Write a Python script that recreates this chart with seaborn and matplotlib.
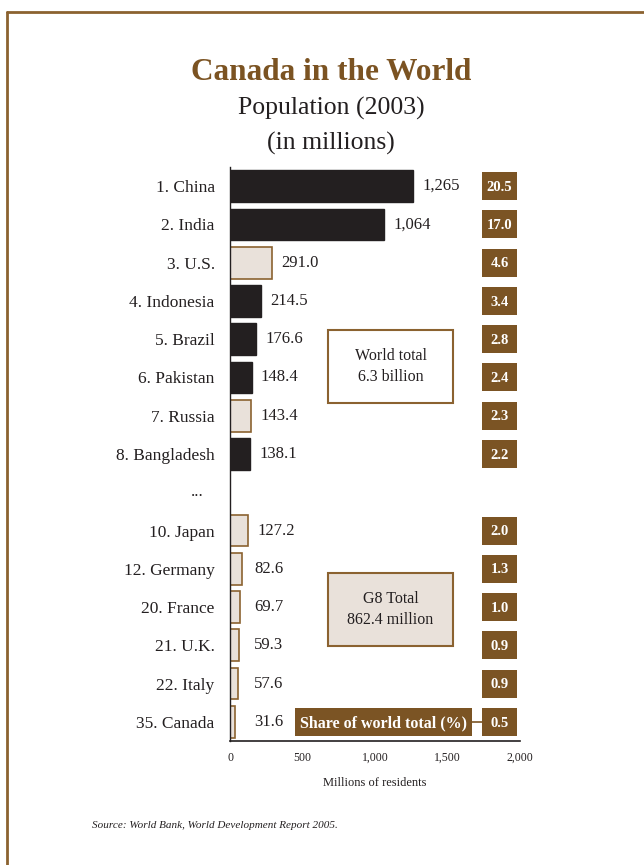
import matplotlib
matplotlib.use("Agg")
import matplotlib.pyplot as plt
from matplotlib.lines import Line2D
from matplotlib.patches import Rectangle
import matplotlib.transforms as mtransforms
import pandas as pd
import seaborn as sns

# ---- data ----
countries = ["1. China", "2. India", "3. U.S.", "4. Indonesia", "5. Brazil",
             "6. Pakistan", "7. Russia", "8. Bangladesh", "10. Japan",
             "12. Germany", "20. France", "21. U.K.", "22. Italy", "35. Canada"]
population = [1265, 1064, 291.0, 214.5, 176.6, 148.4, 143.4, 138.1,
              127.2, 82.6, 69.7, 59.3, 57.6, 31.6]
world_share = [20.5, 17.0, 4.6, 3.4, 2.8, 2.4, 2.3, 2.2,
               2.0, 1.3, 1.0, 0.9, 0.9, 0.5]
is_g8 = [False, False, True, False, False, False, True, False,
         True, True, True, True, True, True]
row_order = countries[:8] + ["..."] + countries[8:]
x_ticks = [0, 500, 1000, 1500, 2000]

# ---- colours ----
DARK = "#231f20"
LIGHT = "#e9e1da"
BROWN = "#8b6230"
BOX = "#7b5424"
TITLE = "#7b5322"

sns.set_style("white")
plt.rcParams["font.family"] = ["Liberation Serif", "DejaVu Serif"]

df = pd.DataFrame({
    "country": countries,
    "population": population,
    "group": ["G8" if g else "Other" for g in is_g8],
})

fig = plt.figure(figsize=(6.44, 8.65), dpi=100)
ax = fig.add_axes([230 / 644, 1 - 741 / 865, 290 / 644, 574 / 865])

sns.barplot(data=df[df["group"] == "Other"], x="population", y="country",
            order=row_order, orient="h", color=DARK, saturation=1,
            edgecolor=DARK, linewidth=1.0, width=0.83, errorbar=None, ax=ax)
sns.barplot(data=df[df["group"] == "G8"], x="population", y="country",
            order=row_order, orient="h", color=LIGHT, saturation=1,
            edgecolor=BROWN, linewidth=1.2, width=0.83, errorbar=None, ax=ax)

ax.set_xlim(0, 2000)
ax.set_ylim(14.5, -0.5)

# value labels next to bars
for name, val in zip(countries, population):
    idx = row_order.index(name)
    txt = f"{val:,.0f}" if val >= 1000 else f"{val:.1f}"
    ax.text(max(val + 65, 165), idx, txt, ha="left", va="center",
            fontsize=12, color=DARK)

# share-of-world boxes on the right
for name, share in zip(countries, world_share):
    idx = row_order.index(name)
    ax.barh(idx, 241, left=1738, height=0.73, color=BOX, linewidth=0)
    ax.text(1858, idx + 0.03, f"{share:.1f}", ha="center", va="center",
            fontsize=10.5, fontweight="bold", color="white")

# caption box for share column
cidx = row_order.index("35. Canada")
ax.barh(cidx, 1221, left=448, height=0.72, color=BOX, linewidth=0)
ax.text(1058, cidx + 0.03, "Share of world total (%)", ha="center", va="center",
        fontsize=11.5, fontweight="bold", color="white")
ax.plot([1669, 1738], [cidx, cidx], color=BOX, lw=1.2)

# total boxes
ax.add_patch(Rectangle((676, 3.76), 862, 1.91, facecolor="white",
                       edgecolor=BROWN, lw=1.5, zorder=3))
ax.text(1107, 4.72, "World total\n6.3 billion", ha="center", va="center",
        fontsize=11.5, color=DARK, linespacing=1.4, zorder=4)
ax.add_patch(Rectangle((676, 10.11), 862, 1.91, facecolor=LIGHT,
                       edgecolor=BROWN, lw=1.5, zorder=3))
ax.text(1107, 11.07, "G8 Total\n862.4 million", ha="center", va="center",
        fontsize=11.5, color=DARK, linespacing=1.4, zorder=4)

# axes styling
ax.set_xticks(x_ticks)
ax.set_xticklabels([f"{t:,}" for t in x_ticks])
ax.set_xlabel("Millions of residents", fontsize=9, color=DARK, labelpad=9)
ax.set_ylabel("")
ax.tick_params(axis="x", length=4, width=1, colors=DARK, labelsize=8.5, pad=4)
ax.tick_params(axis="y", length=0, pad=11, labelsize=12.5, colors=DARK)

# the "..." gap row: its label sits a bit left of the others
gap = row_order.index("...")
ylabels = [t.get_text() for t in ax.get_yticklabels()]
ax.set_yticks(range(len(row_order)))
ax.set_yticklabels(["" if t == "..." else t for t in ylabels])
ax.text(-0.114, gap, "...", ha="center", va="center", fontsize=12.5, color=DARK,
        transform=mtransforms.blended_transform_factory(ax.transAxes, ax.transData))

for side in ["top", "right"]:
    ax.spines[side].set_visible(False)
ax.spines["left"].set_color(DARK)
ax.spines["left"].set_linewidth(1.0)
ax.spines["bottom"].set_color(DARK)
ax.spines["bottom"].set_linewidth(1.2)

# titles
fig.text(331 / 644, 1 - 72 / 865, "Canada in the World", ha="center", va="center",
         fontsize=22.5, fontweight="bold", color=TITLE)
fig.text(331 / 644, 1 - 108 / 865, "Population (2003)", ha="center", va="center",
         fontsize=18.5, color=DARK)
fig.text(331 / 644, 1 - 143 / 865, "(in millions)", ha="center", va="center",
         fontsize=18.5, color=DARK)
fig.text(92 / 644, 1 - 825 / 865, "Source: World Bank, World Development Report 2005.",
         ha="left", va="center", fontsize=8, style="italic", color=DARK)

# page frame (top and left edges)
fig.add_artist(Line2D([7 / 644, 1], [1 - 12 / 865, 1 - 12 / 865],
                      transform=fig.transFigure, color=BROWN, lw=2))
fig.add_artist(Line2D([7 / 644, 7 / 644], [1 - 12 / 865, 0],
                      transform=fig.transFigure, color=BROWN, lw=2))

fig.savefig("out.png", dpi=100)
